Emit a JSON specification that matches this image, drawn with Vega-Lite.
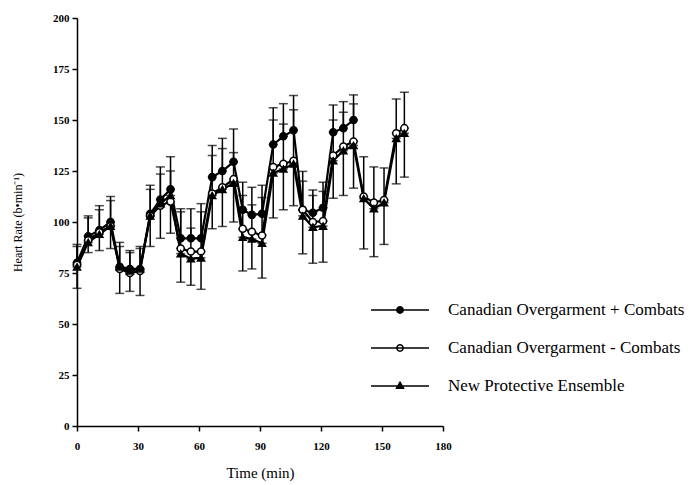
{
  "$schema": "https://vega.github.io/schema/vega-lite/v6.json",
  "width": 366,
  "height": 408,
  "autosize": "none",
  "padding": {"left": 77, "top": 18, "right": 255, "bottom": 59},
  "background": "white",
  "config": {
    "view": {"stroke": null},
    "font": "Liberation Serif",
    "axis": {
      "grid": false,
      "domainColor": "black",
      "domainWidth": 1.5,
      "tickColor": "black",
      "tickWidth": 1.5,
      "tickSize": 5,
      "labelColor": "black",
      "labelFont": "Liberation Serif",
      "labelFontSize": 11,
      "labelFontWeight": "bold",
      "labelFlush": false,
      "titleColor": "black",
      "titleFont": "Liberation Serif",
      "titleFontWeight": "normal"
    },
    "legend": {
      "orient": "none",
      "legendX": 293,
      "legendY": 262,
      "padding": 0,
      "symbolSize": 3364,
      "symbolStrokeWidth": 1.5,
      "symbolStrokeColor": "black",
      "symbolOpacity": 1,
      "labelFont": "Liberation Serif",
      "labelFontSize": 17,
      "labelColor": "black",
      "labelOffset": 18,
      "labelLimit": 400,
      "rowPadding": -5.5
    }
  },
  "data": {
    "values": [
      {"t": 0, "s": "Canadian Overgarment + Combats", "hr": 80, "e": 89},
      {"t": 5.5, "s": "Canadian Overgarment + Combats", "hr": 93, "e": 103},
      {"t": 11, "s": "Canadian Overgarment + Combats", "hr": 96, "e": 108},
      {"t": 16.5, "s": "Canadian Overgarment + Combats", "hr": 100, "e": 112.5},
      {"t": 21, "s": "Canadian Overgarment + Combats", "hr": 78, "e": 90},
      {"t": 26, "s": "Canadian Overgarment + Combats", "hr": 77, "e": 86},
      {"t": 31, "s": "Canadian Overgarment + Combats", "hr": 77, "e": 88},
      {"t": 36, "s": "Canadian Overgarment + Combats", "hr": 104, "e": 118},
      {"t": 41, "s": "Canadian Overgarment + Combats", "hr": 111, "e": 127},
      {"t": 46, "s": "Canadian Overgarment + Combats", "hr": 116, "e": 132},
      {"t": 51, "s": "Canadian Overgarment + Combats", "hr": 92, "e": 106.5},
      {"t": 56, "s": "Canadian Overgarment + Combats", "hr": 92, "e": 106.5},
      {"t": 61, "s": "Canadian Overgarment + Combats", "hr": 92, "e": 109},
      {"t": 66.5, "s": "Canadian Overgarment + Combats", "hr": 122, "e": 137.5},
      {"t": 71.5, "s": "Canadian Overgarment + Combats", "hr": 125, "e": 141},
      {"t": 77, "s": "Canadian Overgarment + Combats", "hr": 129.5, "e": 145.6},
      {"t": 81.5, "s": "Canadian Overgarment + Combats", "hr": 106, "e": 119.5},
      {"t": 86, "s": "Canadian Overgarment + Combats", "hr": 103.5, "e": 117},
      {"t": 91, "s": "Canadian Overgarment + Combats", "hr": 104, "e": 118},
      {"t": 96.5, "s": "Canadian Overgarment + Combats", "hr": 138, "e": 156},
      {"t": 101.5, "s": "Canadian Overgarment + Combats", "hr": 142, "e": 158},
      {"t": 106.5, "s": "Canadian Overgarment + Combats", "hr": 145, "e": 162},
      {"t": 111, "s": "Canadian Overgarment + Combats", "hr": 106, "e": 124.8},
      {"t": 116, "s": "Canadian Overgarment + Combats", "hr": 104.5, "e": 115.7},
      {"t": 121, "s": "Canadian Overgarment + Combats", "hr": 107, "e": 119.5},
      {"t": 126, "s": "Canadian Overgarment + Combats", "hr": 144, "e": 157.4},
      {"t": 131, "s": "Canadian Overgarment + Combats", "hr": 146, "e": 159},
      {"t": 136, "s": "Canadian Overgarment + Combats", "hr": 150, "e": 162.3},

      {"t": 0, "s": "Canadian Overgarment - Combats", "hr": 79, "e": 88},
      {"t": 5.5, "s": "Canadian Overgarment - Combats", "hr": 91, "e": 102},
      {"t": 11, "s": "Canadian Overgarment - Combats", "hr": 95, "e": 106},
      {"t": 16.5, "s": "Canadian Overgarment - Combats", "hr": 98, "e": 110.5},
      {"t": 21, "s": "Canadian Overgarment - Combats", "hr": 77, "e": 88},
      {"t": 26, "s": "Canadian Overgarment - Combats", "hr": 75, "e": 85},
      {"t": 31, "s": "Canadian Overgarment - Combats", "hr": 76, "e": 87},
      {"t": 36, "s": "Canadian Overgarment - Combats", "hr": 103, "e": 116},
      {"t": 41, "s": "Canadian Overgarment - Combats", "hr": 108, "e": 123.5},
      {"t": 46, "s": "Canadian Overgarment - Combats", "hr": 110, "e": 125},
      {"t": 51, "s": "Canadian Overgarment - Combats", "hr": 87, "e": 105},
      {"t": 56, "s": "Canadian Overgarment - Combats", "hr": 85.5, "e": 97},
      {"t": 61, "s": "Canadian Overgarment - Combats", "hr": 85.5, "e": 105},
      {"t": 66.5, "s": "Canadian Overgarment - Combats", "hr": 114, "e": 132.6},
      {"t": 71.5, "s": "Canadian Overgarment - Combats", "hr": 117, "e": 136},
      {"t": 77, "s": "Canadian Overgarment - Combats", "hr": 121, "e": 134},
      {"t": 81.5, "s": "Canadian Overgarment - Combats", "hr": 96.7, "e": 113},
      {"t": 86, "s": "Canadian Overgarment - Combats", "hr": 95.2, "e": 108.4},
      {"t": 91, "s": "Canadian Overgarment - Combats", "hr": 93.4, "e": 112},
      {"t": 96.5, "s": "Canadian Overgarment - Combats", "hr": 127, "e": 150},
      {"t": 101.5, "s": "Canadian Overgarment - Combats", "hr": 128.5, "e": 148},
      {"t": 106.5, "s": "Canadian Overgarment - Combats", "hr": 130, "e": 155},
      {"t": 111, "s": "Canadian Overgarment - Combats", "hr": 106, "e": 120},
      {"t": 116, "s": "Canadian Overgarment - Combats", "hr": 100, "e": 113},
      {"t": 121, "s": "Canadian Overgarment - Combats", "hr": 100.5, "e": 115},
      {"t": 126, "s": "Canadian Overgarment - Combats", "hr": 132.6, "e": 150},
      {"t": 131, "s": "Canadian Overgarment - Combats", "hr": 137, "e": 153.8},
      {"t": 136, "s": "Canadian Overgarment - Combats", "hr": 139.5, "e": 157.9},
      {"t": 141, "s": "Canadian Overgarment - Combats", "hr": 112.5, "e": 132},
      {"t": 146, "s": "Canadian Overgarment - Combats", "hr": 109.5, "e": 127},
      {"t": 151, "s": "Canadian Overgarment - Combats", "hr": 110.8, "e": 126.5},
      {"t": 157, "s": "Canadian Overgarment - Combats", "hr": 143.5, "e": 160.3},
      {"t": 161, "s": "Canadian Overgarment - Combats", "hr": 146, "e": 163.6},

      {"t": 0, "s": "New Protective Ensemble", "hr": 78, "e": 67.5},
      {"t": 5.5, "s": "New Protective Ensemble", "hr": 90, "e": 85},
      {"t": 11, "s": "New Protective Ensemble", "hr": 94, "e": 86},
      {"t": 16.5, "s": "New Protective Ensemble", "hr": 98, "e": 87},
      {"t": 21, "s": "New Protective Ensemble", "hr": 78, "e": 65},
      {"t": 26, "s": "New Protective Ensemble", "hr": 76, "e": 66},
      {"t": 31, "s": "New Protective Ensemble", "hr": 77, "e": 64},
      {"t": 36, "s": "New Protective Ensemble", "hr": 103, "e": 88},
      {"t": 41, "s": "New Protective Ensemble", "hr": 109, "e": 92},
      {"t": 46, "s": "New Protective Ensemble", "hr": 113, "e": 94.5},
      {"t": 51, "s": "New Protective Ensemble", "hr": 84.5, "e": 70.5},
      {"t": 56, "s": "New Protective Ensemble", "hr": 82, "e": 69},
      {"t": 61, "s": "New Protective Ensemble", "hr": 82.4, "e": 67},
      {"t": 66.5, "s": "New Protective Ensemble", "hr": 113, "e": 96.7},
      {"t": 71.5, "s": "New Protective Ensemble", "hr": 116, "e": 97.8},
      {"t": 77, "s": "New Protective Ensemble", "hr": 119, "e": 100},
      {"t": 81.5, "s": "New Protective Ensemble", "hr": 92.5, "e": 76},
      {"t": 86, "s": "New Protective Ensemble", "hr": 91.7, "e": 77},
      {"t": 91, "s": "New Protective Ensemble", "hr": 89.6, "e": 72.5},
      {"t": 96.5, "s": "New Protective Ensemble", "hr": 124, "e": 102},
      {"t": 101.5, "s": "New Protective Ensemble", "hr": 126, "e": 106},
      {"t": 106.5, "s": "New Protective Ensemble", "hr": 128.5, "e": 108},
      {"t": 111, "s": "New Protective Ensemble", "hr": 103, "e": 84.4},
      {"t": 116, "s": "New Protective Ensemble", "hr": 97.5, "e": 79.8},
      {"t": 121, "s": "New Protective Ensemble", "hr": 98, "e": 80.3},
      {"t": 126, "s": "New Protective Ensemble", "hr": 130, "e": 111.7},
      {"t": 131, "s": "New Protective Ensemble", "hr": 135, "e": 113},
      {"t": 136, "s": "New Protective Ensemble", "hr": 137.5, "e": 116.6},
      {"t": 141, "s": "New Protective Ensemble", "hr": 111.5, "e": 86.8},
      {"t": 146, "s": "New Protective Ensemble", "hr": 106.5, "e": 83},
      {"t": 151, "s": "New Protective Ensemble", "hr": 109.5, "e": 89},
      {"t": 157, "s": "New Protective Ensemble", "hr": 141, "e": 118.7},
      {"t": 161, "s": "New Protective Ensemble", "hr": 143.5, "e": 122}
    ]
  },
  "encoding": {
    "x": {
      "field": "t",
      "type": "quantitative",
      "scale": {"domain": [0, 180], "nice": false, "zero": false},
      "axis": {
        "values": [0, 30, 60, 90, 120, 150, 180],
        "title": "Time (min)",
        "titleFontSize": 15,
        "titlePadding": 14,
        "labelPadding": 9
      }
    }
  },
  "layer": [
    {
      "mark": {"type": "errorbar", "color": "black", "thickness": 1.5, "ticks": {"size": 9, "thickness": 1.5, "color": "black"}},
      "encoding": {
        "y": {
          "field": "hr",
          "type": "quantitative",
          "scale": {"domain": [0, 200], "nice": false},
          "axis": {
            "values": [0, 25, 50, 75, 100, 125, 150, 175, 200],
            "title": "Heart Rate (b•min⁻¹)",
            "titleFontSize": 12,
            "titlePadding": 28,
            "labelPadding": 3
          }
        },
        "y2": {"field": "e"},
        "detail": {"field": "s"}
      }
    },
    {
      "mark": {"type": "line", "color": "black", "strokeWidth": 2.2},
      "encoding": {
        "y": {"field": "hr", "type": "quantitative"},
        "detail": {"field": "s"}
      }
    },
    {
      "mark": {"type": "point", "stroke": "black", "strokeWidth": 1.5, "size": 50, "opacity": 1},
      "encoding": {
        "y": {"field": "hr", "type": "quantitative"},
        "shape": {"field": "s", "type": "nominal", "scale": {"range": ["circle", "circle", "triangle-up"]}, "legend": null},
        "fill": {"field": "s", "type": "nominal", "scale": {"range": ["black", "white", "black"]}, "legend": null}
      }
    },
    {
      "mark": {"type": "point", "stroke": "black", "strokeWidth": 1.5, "opacity": 0},
      "encoding": {
        "y": {"field": "hr", "type": "quantitative"},
        "shape": {
          "field": "s",
          "type": "nominal",
          "scale": {"range": [
            "M-1,0L1,0M-0.11,0A0.11,0.11,0,1,1,0.11,0A0.11,0.11,0,1,1,-0.11,0Z",
            "M-1,0L1,0M-0.11,0A0.11,0.11,0,1,1,0.11,0A0.11,0.11,0,1,1,-0.11,0Z",
            "M-1,0L1,0M0,-0.13L0.12,0.08L-0.12,0.08Z"
          ]},
          "legend": {
            "title": null,
            "symbolOpacity": 1,
            "encode": {"symbols": {"update": {"stroke": {"value": "black"}, "strokeWidth": {"value": 1.5}, "opacity": {"value": 1}}}}
          }
        },
        "fill": {
          "field": "s",
          "type": "nominal",
          "scale": {"range": ["black", "white", "black"]},
          "legend": {
            "title": null,
            "symbolOpacity": 1,
            "encode": {"symbols": {"update": {"stroke": {"value": "black"}, "strokeWidth": {"value": 1.5}, "opacity": {"value": 1}}}}
          }
        }
      }
    }
  ],
  "resolve": {"scale": {"shape": "independent", "fill": "independent"}}
}
